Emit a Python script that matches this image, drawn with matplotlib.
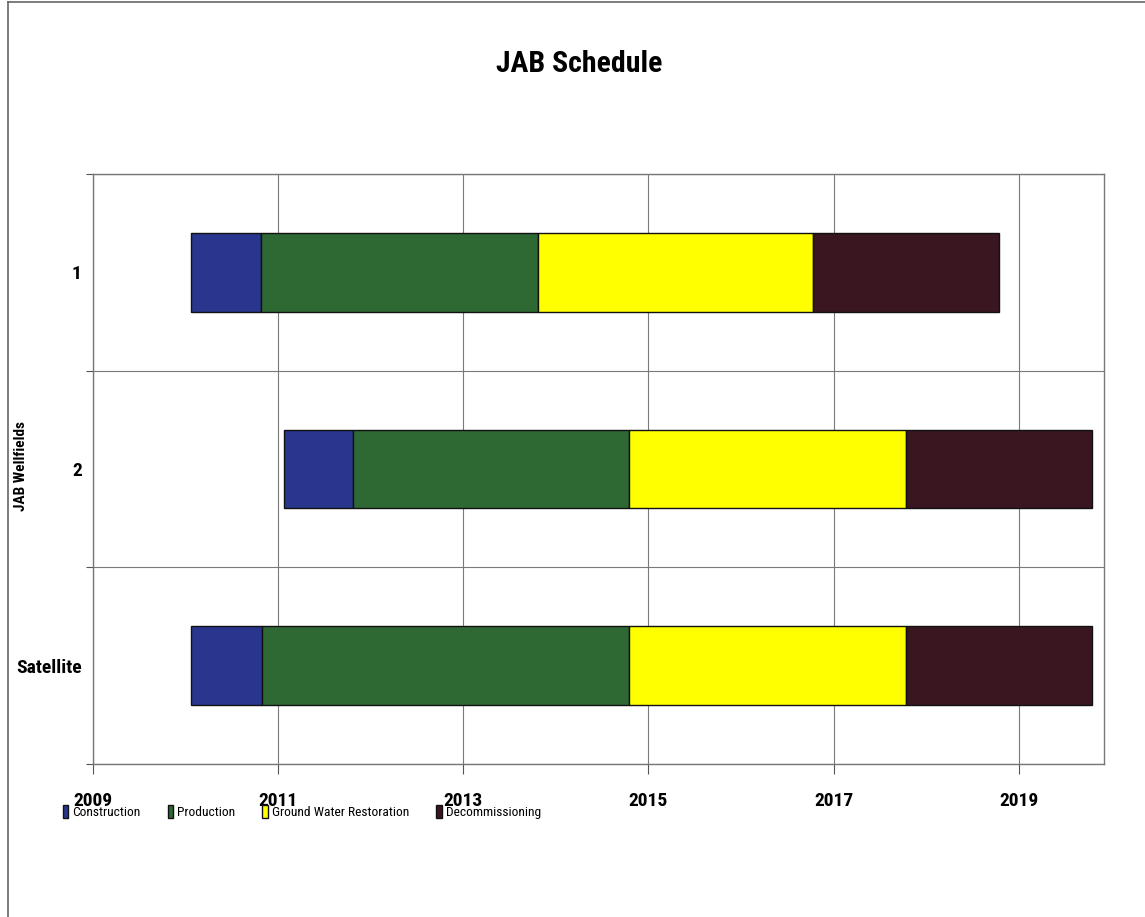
import matplotlib
matplotlib.use("Agg")
import matplotlib.pyplot as plt
from matplotlib.lines import Line2D
import numpy as np

plt.rcParams['font.family'] = ['Roboto Condensed', 'DejaVu Sans']
plt.rcParams['font.stretch'] = 'condensed'

# schedule per wellfield, in decimal years
wellfields = ["1", "2", "Satellite"]
start = [2010.06, 2011.06, 2010.06]
construction = [0.76, 0.75, 0.77]
production = [2.99, 2.98, 3.96]
restoration = [2.97, 2.99, 2.99]
decommissioning = [2.01, 2.01, 2.01]

phases = ["Construction", "Production", "Ground Water Restoration", "Decommissioning"]
colors = ["#28368e", "#2e6934", "#ffff00", "#3a1621"]
year_ticks = [2009, 2011, 2013, 2015, 2017, 2019]

fig = plt.figure(figsize=(11.45, 9.17), dpi=100)
ax = fig.add_axes([0.0812, 0.1668, 0.8830, 0.6435])

y = np.arange(len(wellfields))
left = np.array(start, dtype=float)
for name, vals, c in zip(phases, [construction, production, restoration, decommissioning], colors):
    ax.barh(y, vals, left=left, height=0.4, color=c, edgecolor="#111111",
            linewidth=1.0, label=name, zorder=3)
    left = left + np.array(vals)

ax.set_xlim(2009, 2019.92)
ax.set_ylim(len(wellfields) - 0.5, -0.5)

ax.set_xticks(year_ticks)
ax.set_xticklabels([str(t) for t in year_ticks], fontsize=14, fontweight="bold")
ax.tick_params(axis="x", length=7, width=0.8, color="#555555", pad=13)

# boundaries between wellfields carry the ticks and grid, names sit in the middle
ax.set_yticks(np.arange(-0.5, len(wellfields), 1.0))
ax.set_yticklabels([])
ax.set_yticks(y, minor=True)
ax.set_yticklabels(wellfields, minor=True, fontsize=14, fontweight="bold")
ax.tick_params(axis="y", which="major", length=5, width=0.8, color="#555555")
ax.tick_params(axis="y", which="minor", length=0, pad=8)

ax.grid(True, which="major", color="#7a7a7a", linewidth=0.8, zorder=0)
for s in ax.spines.values():
    s.set_color("#777777")
    s.set_linewidth(1.0)

ax.set_ylabel("JAB Wellfields", fontsize=11, fontweight="bold")
ax.yaxis.set_label_coords(-0.064, 0.505)

fig.text(0.506, 0.930, "JAB Schedule", ha="center", va="center",
         fontsize=21.5, fontweight="bold")

fig.legend(loc="center left", bbox_to_anchor=(0.050, 0.114), ncol=4, frameon=False,
           fontsize=9.7, handlelength=0.42, handleheight=1.1, handletextpad=0.3,
           columnspacing=2.0, borderaxespad=0)

# outer chart frame
fig.add_artist(Line2D([0.0066, 0.0066], [0, 0.9973], transform=fig.transFigure,
                      color="#666666", linewidth=1.2))
fig.add_artist(Line2D([0.0066, 1.0], [0.9973, 0.9973], transform=fig.transFigure,
                      color="#666666", linewidth=1.2))

fig.savefig("out.png", dpi=100)
